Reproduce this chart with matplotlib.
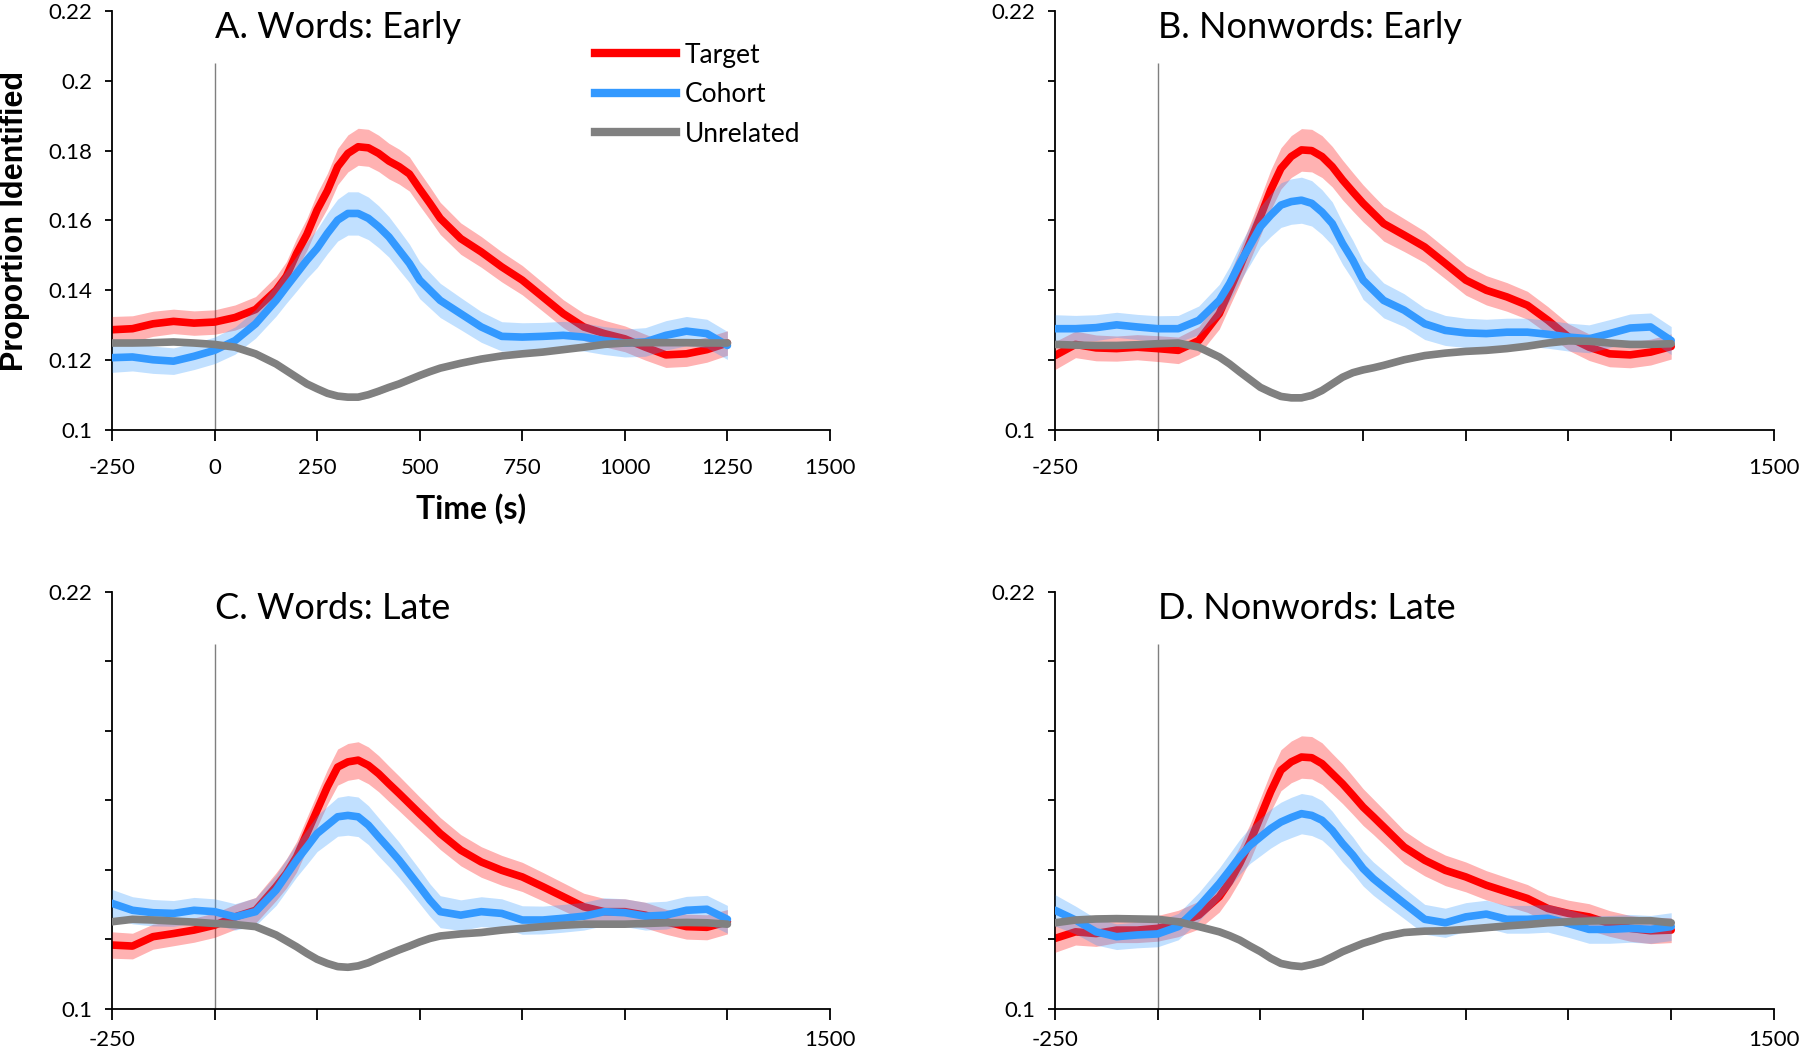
import matplotlib
matplotlib.use('Agg')
import matplotlib.pyplot as plt
from matplotlib.lines import Line2D

plt.rcParams['font.family'] = ['Lato', 'DejaVu Sans']

#%% data (time in ms, proportion identified)
# finer steps around the peak
t = [-250, -200, -150, -100, -50, 0, 50, 100, 150,
     175, 200, 225, 250, 275, 300, 325, 350, 375, 400, 425, 450, 475, 500, 525,
     550, 600, 650, 700, 750, 800, 850, 900, 950, 1000, 1050, 1100, 1150, 1200, 1250]

# A. Words: Early
we_target = [0.1287, 0.1290, 0.1304, 0.1311, 0.1306, 0.1309, 0.1322, 0.1345, 0.1400,
             0.1440, 0.1505, 0.1560, 0.1630, 0.1685, 0.1754, 0.1792, 0.1811, 0.1808, 0.1792,
             0.1770, 0.1754, 0.1733, 0.1690, 0.1649,
             0.1606, 0.1548, 0.1510, 0.1467, 0.1429, 0.1381, 0.1333, 0.1295, 0.1276, 0.1261,
             0.1237, 0.1215, 0.1218, 0.1230, 0.1249]
we_target_se = [0.0038, 0.0037, 0.0036, 0.0035, 0.0035, 0.0035, 0.0036, 0.0037, 0.0040,
                0.0042, 0.0044, 0.0046, 0.0048, 0.0050, 0.0052, 0.0053, 0.0053, 0.0053, 0.0052,
                0.0051, 0.0050, 0.0049, 0.0048, 0.0047,
                0.0046, 0.0045, 0.0044, 0.0043, 0.0042, 0.0041, 0.0040, 0.0039, 0.0038, 0.0037,
                0.0037, 0.0036, 0.0036, 0.0036, 0.0035]
we_cohort = [0.1207, 0.1209, 0.1201, 0.1197, 0.1211, 0.1228, 0.1256, 0.1304, 0.1371,
             0.1410, 0.1448, 0.1486, 0.1520, 0.1563, 0.1601, 0.1620, 0.1620, 0.1606, 0.1582,
             0.1553, 0.1515, 0.1477, 0.1429, 0.1400,
             0.1371, 0.1333, 0.1295, 0.1268, 0.1266, 0.1268, 0.1271, 0.1266, 0.1256, 0.1249,
             0.1252, 0.1271, 0.1283, 0.1276, 0.1242]
we_cohort_se = [0.0042, 0.0040, 0.0039, 0.0038, 0.0038, 0.0038, 0.0039, 0.0041, 0.0045,
                0.0047, 0.0050, 0.0052, 0.0055, 0.0058, 0.0060, 0.0062, 0.0062, 0.0061, 0.0060,
                0.0058, 0.0057, 0.0055, 0.0053, 0.0051,
                0.0049, 0.0046, 0.0044, 0.0042, 0.0041, 0.0040, 0.0040, 0.0040, 0.0040, 0.0040,
                0.0041, 0.0042, 0.0042, 0.0041, 0.0040]
we_unrel = [0.1249, 0.1249, 0.1250, 0.1252, 0.1249, 0.1245, 0.1237, 0.1218, 0.1189,
            0.1170, 0.1151, 0.1132, 0.1118, 0.1105, 0.1097, 0.1094, 0.1094, 0.1101, 0.1111,
            0.1122, 0.1132, 0.1144, 0.1156, 0.1167,
            0.1177, 0.1191, 0.1203, 0.1212, 0.1218, 0.1223, 0.1230, 0.1237, 0.1245, 0.1249,
            0.1250, 0.1250, 0.1250, 0.1249, 0.1249]

# B. Nonwords: Early
ne_target = [0.1213, 0.1245, 0.1235, 0.1233, 0.1237, 0.1233, 0.1228, 0.1256, 0.1333,
             0.1400, 0.1467, 0.1539, 0.1611, 0.1687, 0.1749, 0.1783, 0.1802, 0.1800, 0.1783,
             0.1754, 0.1716, 0.1682, 0.1649, 0.1620,
             0.1591, 0.1558, 0.1524, 0.1477, 0.1429, 0.1400, 0.1381, 0.1357, 0.1314, 0.1266,
             0.1237, 0.1218, 0.1215, 0.1223, 0.1239]
ne_target_se = [0.0040, 0.0038, 0.0037, 0.0036, 0.0036, 0.0037, 0.0038, 0.0040, 0.0044,
                0.0046, 0.0049, 0.0052, 0.0054, 0.0057, 0.0059, 0.0060, 0.0061, 0.0061, 0.0060,
                0.0058, 0.0057, 0.0055, 0.0053, 0.0051,
                0.0050, 0.0047, 0.0045, 0.0044, 0.0043, 0.0042, 0.0041, 0.0040, 0.0039, 0.0038,
                0.0038, 0.0037, 0.0037, 0.0037, 0.0036]
ne_cohort = [0.1290, 0.1290, 0.1293, 0.1301, 0.1295, 0.1290, 0.1290, 0.1314, 0.1371,
             0.1419, 0.1477, 0.1529, 0.1582, 0.1615, 0.1644, 0.1654, 0.1658, 0.1649, 0.1624,
             0.1591, 0.1534, 0.1486, 0.1429, 0.1400,
             0.1371, 0.1343, 0.1304, 0.1285, 0.1278, 0.1276, 0.1280, 0.1280, 0.1274, 0.1266,
             0.1261, 0.1276, 0.1292, 0.1295, 0.1256]
ne_cohort_se = [0.0040, 0.0038, 0.0037, 0.0036, 0.0036, 0.0037, 0.0038, 0.0041, 0.0046,
                0.0049, 0.0052, 0.0055, 0.0058, 0.0061, 0.0064, 0.0065, 0.0066, 0.0065, 0.0064,
                0.0062, 0.0060, 0.0057, 0.0055, 0.0052,
                0.0050, 0.0047, 0.0045, 0.0043, 0.0042, 0.0041, 0.0040, 0.0040, 0.0040, 0.0040,
                0.0040, 0.0040, 0.0040, 0.0040, 0.0040]
ne_unrel = [0.1245, 0.1243, 0.1242, 0.1242, 0.1244, 0.1247, 0.1249, 0.1237, 0.1209,
            0.1189, 0.1166, 0.1144, 0.1122, 0.1108, 0.1096, 0.1092, 0.1092, 0.1099, 0.1113,
            0.1132, 0.1151, 0.1164, 0.1172, 0.1178,
            0.1185, 0.1201, 0.1213, 0.1220, 0.1225, 0.1228, 0.1233, 0.1240, 0.1249, 0.1255,
            0.1254, 0.1249, 0.1245, 0.1245, 0.1247]

# C. Words: Late
wl_target = [0.1184, 0.1181, 0.1208, 0.1217, 0.1227, 0.1241, 0.1265, 0.1284, 0.1352,
             0.1390, 0.1438, 0.1505, 0.1572, 0.1639, 0.1696, 0.1711, 0.1716, 0.1701, 0.1677,
             0.1648, 0.1620, 0.1591, 0.1562, 0.1534,
             0.1505, 0.1457, 0.1423, 0.1399, 0.1380, 0.1352, 0.1323, 0.1294, 0.1280, 0.1280,
             0.1270, 0.1251, 0.1237, 0.1235, 0.1251]
wl_target_se = [0.0038, 0.0037, 0.0036, 0.0035, 0.0035, 0.0035, 0.0036, 0.0037, 0.0040,
                0.0042, 0.0044, 0.0046, 0.0048, 0.0050, 0.0052, 0.0053, 0.0053, 0.0053, 0.0052,
                0.0051, 0.0050, 0.0049, 0.0048, 0.0047,
                0.0046, 0.0045, 0.0044, 0.0043, 0.0042, 0.0041, 0.0040, 0.0039, 0.0038, 0.0037,
                0.0037, 0.0036, 0.0036, 0.0036, 0.0035]
wl_cohort = [0.1304, 0.1284, 0.1277, 0.1275, 0.1284, 0.1280, 0.1265, 0.1280, 0.1342,
             0.1385, 0.1428, 0.1466, 0.1505, 0.1529, 0.1553, 0.1557, 0.1553, 0.1529, 0.1495,
             0.1462, 0.1428, 0.1390, 0.1352, 0.1313,
             0.1280, 0.1270, 0.1280, 0.1275, 0.1256, 0.1256, 0.1261, 0.1267, 0.1280, 0.1277,
             0.1267, 0.1270, 0.1284, 0.1287, 0.1258]
wl_cohort_se = [0.0040, 0.0039, 0.0038, 0.0037, 0.0037, 0.0037, 0.0038, 0.0040, 0.0044,
                0.0046, 0.0048, 0.0050, 0.0052, 0.0054, 0.0056, 0.0057, 0.0057, 0.0056, 0.0055,
                0.0053, 0.0052, 0.0050, 0.0049, 0.0047,
                0.0046, 0.0044, 0.0043, 0.0042, 0.0041, 0.0040, 0.0040, 0.0040, 0.0040, 0.0040,
                0.0040, 0.0040, 0.0040, 0.0040, 0.0040]
wl_unrel = [0.1251, 0.1258, 0.1256, 0.1253, 0.1250, 0.1246, 0.1243, 0.1237, 0.1213,
            0.1196, 0.1179, 0.1160, 0.1143, 0.1131, 0.1122, 0.1120, 0.1124, 0.1133, 0.1146,
            0.1158, 0.1170, 0.1181, 0.1193, 0.1203,
            0.1210, 0.1216, 0.1220, 0.1227, 0.1232, 0.1237, 0.1241, 0.1244, 0.1244, 0.1244,
            0.1246, 0.1248, 0.1249, 0.1248, 0.1244]

# D. Nonwords: Late
nl_target = [0.1203, 0.1222, 0.1217, 0.1227, 0.1227, 0.1232, 0.1246, 0.1270, 0.1323,
             0.1366, 0.1419, 0.1481, 0.1553, 0.1625, 0.1687, 0.1711, 0.1725, 0.1723, 0.1706,
             0.1677, 0.1648, 0.1615, 0.1581, 0.1553,
             0.1524, 0.1466, 0.1428, 0.1399, 0.1380, 0.1356, 0.1337, 0.1318, 0.1289, 0.1275,
             0.1265, 0.1246, 0.1232, 0.1225, 0.1227]
nl_target_se = [0.0040, 0.0038, 0.0037, 0.0036, 0.0036, 0.0037, 0.0038, 0.0040, 0.0044,
                0.0046, 0.0049, 0.0052, 0.0054, 0.0057, 0.0059, 0.0060, 0.0061, 0.0061, 0.0060,
                0.0058, 0.0057, 0.0055, 0.0053, 0.0051,
                0.0050, 0.0047, 0.0045, 0.0044, 0.0043, 0.0042, 0.0041, 0.0040, 0.0039, 0.0038,
                0.0038, 0.0037, 0.0037, 0.0037, 0.0036]
nl_cohort = [0.1284, 0.1256, 0.1222, 0.1208, 0.1213, 0.1216, 0.1237, 0.1294, 0.1361,
             0.1399, 0.1438, 0.1471, 0.1495, 0.1519, 0.1538, 0.1551, 0.1562, 0.1557, 0.1543,
             0.1514, 0.1476, 0.1443, 0.1404, 0.1375,
             0.1351, 0.1304, 0.1258, 0.1248, 0.1265, 0.1273, 0.1258, 0.1258, 0.1261, 0.1246,
             0.1229, 0.1229, 0.1232, 0.1229, 0.1237]
nl_cohort_se = [0.0045, 0.0040, 0.0038, 0.0037, 0.0037, 0.0037, 0.0038, 0.0041, 0.0045,
                0.0048, 0.0050, 0.0052, 0.0054, 0.0056, 0.0057, 0.0058, 0.0058, 0.0058, 0.0057,
                0.0055, 0.0054, 0.0052, 0.0050, 0.0048,
                0.0047, 0.0044, 0.0043, 0.0042, 0.0041, 0.0040, 0.0040, 0.0040, 0.0040, 0.0040,
                0.0040, 0.0040, 0.0040, 0.0040, 0.0040]
nl_unrel = [0.1248, 0.1256, 0.1259, 0.1260, 0.1259, 0.1258, 0.1251, 0.1237, 0.1222,
            0.1211, 0.1198, 0.1181, 0.1165, 0.1146, 0.1131, 0.1125, 0.1122, 0.1128, 0.1136,
            0.1150, 0.1165, 0.1177, 0.1189, 0.1198,
            0.1208, 0.1220, 0.1224, 0.1225, 0.1229, 0.1234, 0.1239, 0.1243, 0.1248, 0.1251,
            0.1253, 0.1254, 0.1254, 0.1254, 0.1248]

# unrelated band is very narrow
unrel_se = [0.0006, 0.0006, 0.0006, 0.0006, 0.0006, 0.0006, 0.0006, 0.0007, 0.0007,
            0.0007, 0.0008, 0.0008, 0.0008, 0.0009, 0.0009, 0.0009, 0.0009, 0.0009, 0.0009,
            0.0008, 0.0008, 0.0008, 0.0008, 0.0007,
            0.0007, 0.0007, 0.0007, 0.0007, 0.0006, 0.0006, 0.0006, 0.0006, 0.0006, 0.0006,
            0.0006, 0.0006, 0.0006, 0.0006, 0.0006]

x_ticks = [-250, 0, 250, 500, 750, 1000, 1250, 1500]
y_ticks = [0.10, 0.12, 0.14, 0.16, 0.18, 0.20, 0.22]
x_labels_full = ['-250', '0', '250', '500', '750', '1000', '1250', '1500']
y_labels_full = ['0.1', '0.12', '0.14', '0.16', '0.18', '0.2', '0.22']
x_labels_ends = ['-250', '', '', '', '', '', '', '1500']
y_labels_ends = ['0.1', '', '', '', '', '', '0.22']

cor_target = '#FF0000'
cor_cohort = '#3399FF'
cor_unrel = '#808080'

#%% figura
fig = plt.figure(figsize=(18, 10.52), dpi=100)

paineis = [
    ([0.0622, 0.5913, 0.3989, 0.3983], 'A. Words: Early',
     we_target, we_target_se, we_cohort, we_cohort_se, we_unrel, True, 12),
    ([0.5861, 0.5913, 0.3994, 0.3983], 'B. Nonwords: Early',
     ne_target, ne_target_se, ne_cohort, ne_cohort_se, ne_unrel, False, 12),
    ([0.0622, 0.0409, 0.3989, 0.3964], 'C. Words: Late',
     wl_target, wl_target_se, wl_cohort, wl_cohort_se, wl_unrel, False, 7),
    ([0.5861, 0.0409, 0.3994, 0.3964], 'D. Nonwords: Late',
     nl_target, nl_target_se, nl_cohort, nl_cohort_se, nl_unrel, False, 7),
]

for rect, titulo, tg, tg_se, co, co_se, un, completo, xpad in paineis:
    ax = fig.add_axes(rect)
    z = 2
    for media, se, cor in [(tg, tg_se, cor_target), (co, co_se, cor_cohort), (un, unrel_se, cor_unrel)]:
        ax.plot(t, media, color=cor, lw=5.5, solid_joinstyle='round', solid_capstyle='round', zorder=z)
        lo = [m - s for m, s in zip(media, se)]
        hi = [m + s for m, s in zip(media, se)]
        ax.fill_between(t, lo, hi, color=cor, alpha=0.3, lw=0, zorder=z + 1)
        z += 2

    ax.vlines(0, 0.1, 0.205, color='#7f7f7f', lw=1, zorder=1)

    ax.set_xlim(-250, 1500)
    ax.set_ylim(0.1, 0.22)
    ax.spines['top'].set_visible(False)
    ax.spines['right'].set_visible(False)
    ax.spines['left'].set_linewidth(1.3)
    ax.spines['bottom'].set_linewidth(1.3)

    ax.set_xticks(x_ticks)
    ax.set_yticks(y_ticks)
    if completo:
        ax.set_xticklabels(x_labels_full)
        ax.set_yticklabels(y_labels_full)
    else:
        ax.set_xticklabels(x_labels_ends)
        ax.set_yticklabels(y_labels_ends)
    ax.tick_params(axis='x', direction='out', length=8, width=1.3, labelsize=16, pad=xpad)
    ax.tick_params(axis='y', direction='out', length=5, width=1.3, labelsize=16, pad=9)

    ax.text(0, 0.2153, titulo, fontsize=26, ha='left', va='center')

    if completo:
        ax.set_xlabel('Time (s)', fontsize=23, fontweight='bold')
        ax.xaxis.set_label_coords(0.5, -0.150)
        ax.set_ylabel('Proportion Identified', fontsize=22, fontweight='bold',
                      family=['Liberation Sans', 'DejaVu Sans'])
        ax.yaxis.set_label_coords(-0.114, 0.5)
        handles = [Line2D([], [], color=cor_target, lw=6),
                   Line2D([], [], color=cor_cohort, lw=6),
                   Line2D([], [], color=cor_unrel, lw=6)]
        ax.legend(handles, ['Target', 'Cohort', 'Unrelated'], loc='upper left',
                  bbox_to_anchor=(0.655, 0.956), frameon=False, fontsize=19,
                  handlelength=3.07, handletextpad=0.3, labelspacing=0.55, borderpad=0)

fig.savefig('out.png', dpi=100)
